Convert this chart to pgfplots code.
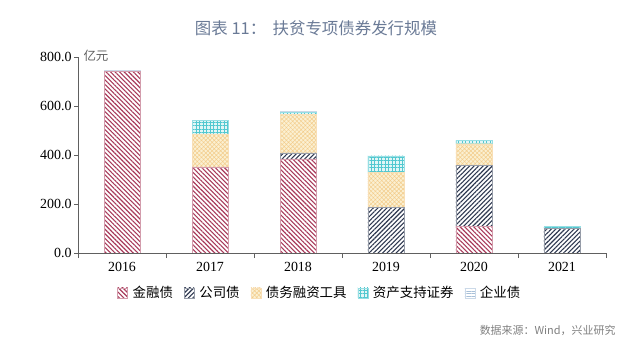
\documentclass[border=0pt]{standalone}
\usepackage{pgfplots}
\pgfplotsset{compat=1.18}
\usepackage{fontspec}
\setmainfont{Liberation Serif}
\newfontfamily\cjk{Noto Sans CJK SC}
\usetikzlibrary{patterns.meta}
\definecolor{finred}{HTML}{A83A5A}
\definecolor{corpnavy}{HTML}{2E3850}
\definecolor{debtor}{HTML}{F0C070}
\definecolor{debtbg}{HTML}{FBF0D2}
\definecolor{abscy}{HTML}{52C8D0}
\definecolor{absbg}{HTML}{E2F6F6}
\definecolor{entbl}{HTML}{A8C0D8}
\definecolor{titlec}{HTML}{6A7A96}
\definecolor{axisc}{HTML}{606060}
\begin{document}
\begin{tikzpicture}
\path[use as bounding box] (0,0) rectangle (640bp,346bp);
\node[font=\cjk\fontsize{16.5}{18}\selectfont, text=titlec] at (316bp,318bp) {图表 11：\, 扶贫专项债券发行规模};
\node[font=\cjk\fontsize{12.5}{14}\selectfont, text=axisc, anchor=west] at (80bp,290bp) {亿元};
\node[font=\cjk\fontsize{11}{13}\selectfont, text=gray, anchor=east] at (619bp,16bp) {数据来源：Wind，兴业研究};
\begin{axis}[
  at={(78bp,93bp)}, anchor=south west,
  scale only axis, width=528bp, height=196bp,
  ybar stacked, bar width=36bp,
  xmin=-0.5, xmax=5.5, ymin=0, ymax=800,
  xtick={0,...,5}, xticklabels={2016,2017,2018,2019,2020,2021},
  minor xtick={-0.5,0.5,...,5.5},
  ytick={0,200,...,800},
  yticklabel={\pgfmathprintnumber[fixed,fixed zerofill,precision=1]{\tick}},
  /pgf/number format/assume math mode=true,
  axis lines=left, axis line style={-, axisc, line width=0.8pt},
  tick align=outside,
  major x tick style={draw=none},
  minor x tick style={axisc, line width=0.8pt},
  ytick style={axisc, line width=0.8pt},
  major tick length=4bp, minor tick length=5bp,
  tick label style={font=\fontsize{14}{16}\selectfont, text=black},
  yticklabel style={xshift=1bp},
  xticklabel style={yshift=-2bp},
  legend columns=5,
  legend style={at={(0.458,-0.204)}, anchor=center, draw=none, fill=none,
    font=\cjk\fontsize{13.5}{15}\selectfont, column sep=3bp,
    /tikz/every even column/.append style={column sep=9bp}},
  legend image code/.code={\draw[#1] (0bp,-5bp) rectangle (10bp,5bp);},
]
\addplot[fill=white, draw=finred!50, line width=0.3pt, postaction={pattern={Lines[angle=-45,distance=3.2bp,line width=1.1bp]}, pattern color=finred}]
 coordinates {(0,741) (1,352) (2,384) (3,0) (4,110) (5,0)};
\addplot[fill=white, draw=corpnavy!50, line width=0.3pt, postaction={pattern={Lines[angle=45,distance=3.2bp,line width=1.1bp]}, pattern color=corpnavy}]
 coordinates {(0,0) (1,0) (2,25) (3,186) (4,248) (5,101)};
\addplot[fill=debtbg, draw=debtor!50, line width=0.3pt, postaction={pattern={Hatch[angle=45,distance=3bp,line width=0.5bp]}, pattern color=debtor!80}]
 coordinates {(0,0) (1,134) (2,158) (3,142) (4,88) (5,0)};
\addplot[fill=absbg, draw=abscy!60, line width=0.3pt, postaction={pattern={Hatch[angle=0,distance=3.5bp,line width=0.6bp]}, pattern color=abscy}]
 coordinates {(0,0) (1,56) (2,8) (3,69) (4,14) (5,8)};
\addplot[fill=white, draw=entbl!60, line width=0.3pt, postaction={pattern={Lines[angle=0,distance=2.5bp,line width=0.8bp]}, pattern color=entbl}]
 coordinates {(0,4) (1,0) (2,4) (3,0) (4,0) (5,0)};
\legend{金融债,公司债,债务融资工具,资产支持证券,企业债}
\end{axis}
\end{tikzpicture}
\end{document}
